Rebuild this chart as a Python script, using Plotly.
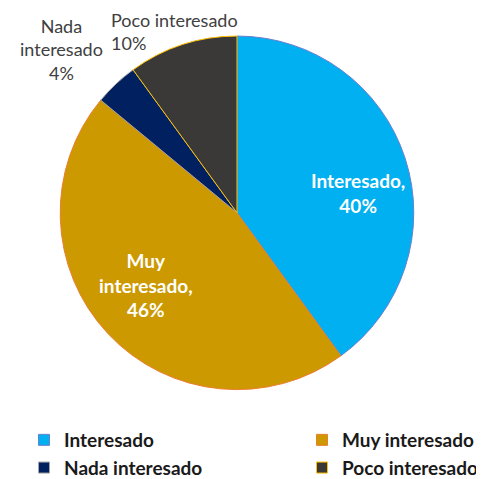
import plotly.graph_objects as go

categories = ["Interesado", "Muy interesado", "Nada interesado", "Poco interesado"]
values = [40, 46, 4, 10]
percent_labels = ["40%", "46%", "4%", "10%"]
colors = ["#00B0F0", "#CC9900", "#002060", "#3B3838"]
border_colors = ["#6A7FD0", "#ED7D31", "#A5A5A5", "#FFC000"]
legend_columns = ["legend", "legend2", "legend", "legend2"]

fig = go.Figure()
fig.add_trace(go.Pie(
    labels=categories,
    values=values,
    textinfo="none",
    sort=False,
    direction="clockwise",
    rotation=0,
    marker=dict(colors=colors, line=dict(color=border_colors, width=1)),
    domain=dict(x=[0.0826, 0.8636], y=[0.1482, 0.9374]),
    hoverinfo="label+percent",
    showlegend=False,
))

# legend entries (two columns)
for cat, col, bc, lg in zip(categories, colors, border_colors, legend_columns):
    fig.add_trace(go.Scatter(
        x=[None], y=[None], mode="markers", name=cat,
        marker=dict(symbol="square", size=11, color=col, line=dict(color=bc, width=1)),
        legend=lg, hoverinfo="skip",
    ))

inside_font = dict(family="Lato, sans-serif", size=19, color="white", weight="bold")
outside_font = dict(family="Lato, sans-serif", size=18, color="#404040")

# data labels
fig.add_annotation(
    x=350 / 484, y=1 - 198 / 479, xref="paper", yref="paper",
    text=f"{categories[0]},<br>{percent_labels[0]}",
    showarrow=False, align="center", xanchor="center", yanchor="middle",
    font=inside_font,
)
fig.add_annotation(
    x=138 / 484, y=1 - 296 / 479, xref="paper", yref="paper",
    text=f"Muy<br>interesado,<br>{percent_labels[1]}",
    showarrow=False, align="center", xanchor="center", yanchor="middle",
    font=inside_font,
)
fig.add_annotation(
    x=53 / 484, y=1 - 44 / 479, xref="paper", yref="paper",
    text=f"Nada<br>interesado<br>{percent_labels[2]}",
    showarrow=False, align="center", xanchor="center", yanchor="middle",
    font=outside_font,
)
fig.add_annotation(
    x=101 / 484, y=1 - 25 / 479, xref="paper", yref="paper",
    text=f"Poco interesado<br>{percent_labels[3]}",
    showarrow=False, align="left", xanchor="left", yanchor="middle",
    font=outside_font,
)

legend_font = dict(family="Lato, sans-serif", size=19, color="#1A1A1A", weight="bold")
fig.update_layout(
    width=484, height=479,
    margin=dict(l=0, r=0, t=0, b=0),
    paper_bgcolor="white",
    plot_bgcolor="white",
    xaxis=dict(visible=False),
    yaxis=dict(visible=False),
    legend=dict(
        orientation="v", x=16 / 484, y=1 - 442 / 479, xanchor="left", yanchor="top",
        font=legend_font, tracegroupgap=0, itemwidth=30, bgcolor="rgba(0,0,0,0)",
    ),
    legend2=dict(
        orientation="v", x=294 / 484, y=1 - 442 / 479, xanchor="left", yanchor="top",
        font=legend_font, tracegroupgap=0, itemwidth=30, bgcolor="rgba(0,0,0,0)",
    ),
)

fig.write_html("out.html")
